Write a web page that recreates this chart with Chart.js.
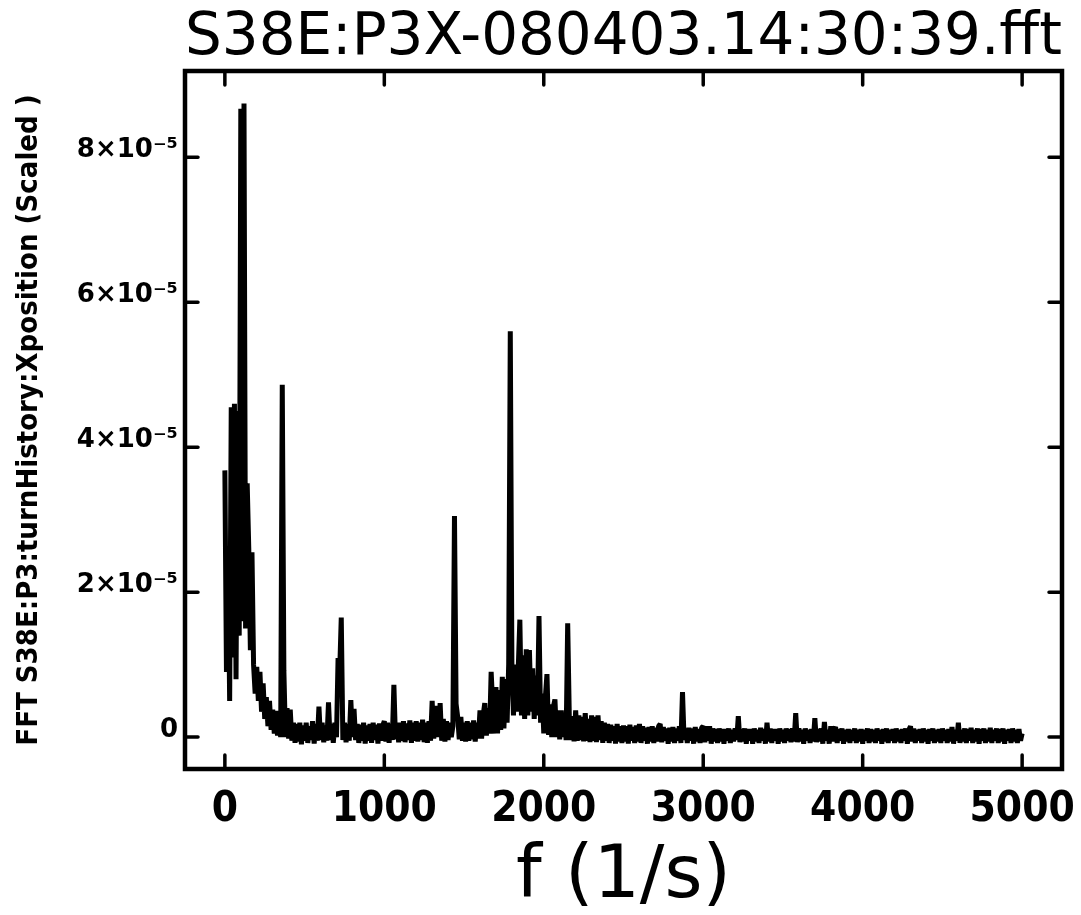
<!DOCTYPE html>
<html>
<head>
<meta charset="utf-8">
<script src="https://cdn.jsdelivr.net/npm/chart.js@4.4.1/dist/chart.umd.min.js"></script>
<style>
  html, body { margin: 0; padding: 0; background: #fff; }
  #fft { display: block; }
</style>
</head>
<body>
<canvas id="fft" width="1081" height="915"></canvas>
<script>
const chartTitle = 'S38E:P3X-080403.14:30:39.fft';
const xAxisTitle = 'f (1/s)';
const yAxisTitle = 'FFT S38E:P3:turnHistory:Xposition (Scaled )';
const yTickSuffix = '×10⁻⁵';

const xTickValues = [0, 1000, 2000, 3000, 4000, 5000];
const yTickValues = [0, 2, 4, 6, 8];

// frequency grid of the spectrum (1/s)
const freqStart = 0;
const freqStep = 10;

// FFT amplitude, in units of 1e-5, one value per 10 1/s from 0 to 5000
const amplitudeE5 = [
  3.68, 0.9, 2.58, 0.5, 4.55, 1.1, 4.6, 0.8, 4.5, 1.4,
  8.67, 1.6, 8.74, 1.5, 3.5, 2.59, 1.2, 2.55, 1.0, 0.6,
  0.97, 0.5, 0.9, 0.35, 0.74, 0.25, 0.55, 0.15, 0.5, 0.1,
  0.38, 0.05, 0.36, 0.02, 0.32, 0.0, 4.86, 0.92, 0.0, 0.4,
  -0.02, 0.38, -0.05, 0.2, -0.08, 0.18, -0.06, 0.2, -0.1, 0.16,
  -0.05, 0.2, -0.08, 0.15, -0.04, 0.22, -0.09, 0.18, -0.05, 0.42,
  -0.04, 0.2, -0.07, 0.16, -0.05, 0.48, -0.04, 0.18, -0.08, 0.2,
  0.0, 1.09, 0.9, 1.65, -0.04, 0.2, -0.07, 0.18, -0.05, 0.51,
  0.0, 0.39, -0.04, 0.18, -0.08, 0.17, -0.05, 0.2, -0.09, 0.16,
  -0.05, 0.18, -0.08, 0.2, -0.04, 0.17, -0.09, 0.19, -0.05, 0.16,
  0.22, -0.06, 0.2, -0.08, 0.18, -0.04, 0.72, -0.03, 0.2, -0.07,
  0.2, -0.05, 0.22, -0.07, 0.19, -0.04, 0.23, -0.08, 0.2, -0.05,
  0.22, -0.06, 0.2, -0.04, 0.24, -0.07, 0.2, -0.08, 0.22, -0.05,
  0.5, -0.02, 0.22, 0.43, 0.0, 0.47, -0.05, 0.25, -0.06, 0.22,
  -0.04, 0.2, 0.0, 0.15, 3.05, 0.46, 0.28, -0.03, 0.28, -0.05,
  0.2, -0.06, 0.22, -0.05, 0.2, -0.03, 0.23, -0.06, 0.2, -0.02,
  0.37, -0.02, 0.3, 0.47, 0.02, 0.4, 0.05, 0.9, 0.42, 0.05,
  0.69, 0.05, 0.65, 0.1, 0.83, 0.12, 0.8, 0.2, 1.0, 5.6,
  1.03, 0.3, 1.0, 0.35, 0.95, 1.62, 0.3, 1.13, 0.25, 1.21,
  0.3, 1.2, 0.35, 0.95, 0.25, 0.85, 0.3, 1.67, 0.2, 0.6,
  0.05, 0.55, 0.87, 0.03, 0.45, 0.0, 0.42, 0.52, 0.0, 0.37,
  -0.03, 0.37, 0.0, 0.3, -0.04, 1.57, 0.29, -0.04, 0.29, -0.06,
  0.37, -0.05, 0.3, -0.04, 0.28, -0.06, 0.33, -0.05, 0.25, -0.07,
  0.3, -0.05, 0.28, -0.07, 0.3, -0.04, 0.22, -0.08, 0.2, -0.05,
  0.18, -0.08, 0.17, -0.05, 0.15, -0.09, 0.18, -0.06, 0.15, -0.08,
  0.16, -0.06, 0.15, -0.09, 0.17, -0.05, 0.14, -0.08, 0.16, -0.06,
  0.18, -0.08, 0.15, -0.05, 0.13, -0.09, 0.14, -0.06, 0.15, -0.08,
  0.13, -0.06, 0.15, 0.18, -0.07, 0.14, -0.05, 0.12, -0.09, 0.13,
  -0.06, 0.14, -0.08, 0.12, -0.05, 0.15, -0.08, 0.62, -0.04, 0.12,
  -0.08, 0.13, -0.05, 0.12, -0.09, 0.14, -0.06, 0.11, -0.08, 0.13,
  0.15, -0.07, 0.15, -0.05, 0.15, -0.09, 0.12, -0.06, 0.11, -0.08,
  0.12, -0.06, 0.11, -0.09, 0.11, -0.05, 0.12, -0.08, 0.1, -0.06,
  0.12, -0.04, 0.29, -0.07, 0.11, -0.06, 0.12, -0.09, 0.11, -0.05,
  0.11, -0.09, 0.12, -0.06, 0.1, -0.08, 0.13, -0.05, 0.11, -0.09,
  0.2, -0.06, 0.12, -0.08, 0.11, -0.05, 0.11, -0.09, 0.12, -0.06,
  0.1, -0.08, 0.12, -0.05, 0.11, -0.07, 0.12, -0.06, 0.33, -0.07,
  0.12, -0.06, 0.1, -0.09, 0.12, -0.05, 0.1, -0.08, 0.11, -0.06,
  0.26, -0.07, 0.11, -0.06, 0.12, -0.09, 0.21, -0.05, 0.1, -0.09,
  0.15, -0.06, 0.1, 0.14, -0.08, 0.11, -0.05, 0.12, -0.09, 0.1,
  -0.06, 0.11, -0.08, 0.1, -0.05, 0.12, -0.08, 0.1, -0.06, 0.11,
  -0.09, 0.1, -0.05, 0.12, -0.08, 0.11, -0.06, 0.1, -0.08, 0.12,
  -0.05, 0.1, -0.09, 0.11, -0.06, 0.12, -0.08, 0.1, -0.05, 0.11,
  -0.08, 0.12, -0.06, 0.1, -0.08, 0.11, -0.05, 0.12, -0.09, 0.1,
  0.15, -0.06, 0.12, -0.08, 0.1, -0.05, 0.11, -0.08, 0.12, -0.06,
  0.1, -0.09, 0.11, -0.05, 0.12, -0.08, 0.1, -0.06, 0.11, -0.08,
  0.12, -0.05, 0.1, -0.08, 0.11, -0.06, 0.14, -0.09, 0.1, -0.05,
  0.2, -0.08, 0.1, -0.06, 0.12, -0.08, 0.11, -0.05, 0.13, -0.08,
  0.1, -0.06, 0.12, -0.09, 0.11, -0.05, 0.12, -0.08, 0.1, -0.06,
  0.13, -0.08, 0.1, -0.05, 0.12, -0.08, 0.11, -0.06, 0.12, -0.09,
  0.1, -0.05, 0.11, -0.08, 0.12, -0.06, 0.1, -0.08, 0.11, -0.05,
  0.05
];

const xRange = [-250, 5250];
const yRange = [-0.44, 9.19];

const points = amplitudeE5.map((v, i) => ({ x: freqStart + i * freqStep, y: v }));

// box round the plot with tick marks pointing inwards on all four sides
const frameTicks = {
  id: 'frameTicks',
  afterDatasetsDraw(chart) {
    const { ctx, chartArea: a, scales } = chart;
    ctx.save();
    ctx.strokeStyle = '#000';
    ctx.lineWidth = 4.5;
    ctx.strokeRect(a.left, a.top, a.right - a.left, a.bottom - a.top);
    ctx.lineWidth = 3.5;
    ctx.lineCap = 'round';
    ctx.beginPath();
    scales.x.ticks.forEach(t => {
      const px = scales.x.getPixelForValue(t.value);
      ctx.moveTo(px, a.bottom); ctx.lineTo(px, a.bottom - 14);
      ctx.moveTo(px, a.top); ctx.lineTo(px, a.top + 14);
    });
    scales.y.ticks.forEach(t => {
      const py = scales.y.getPixelForValue(t.value);
      ctx.moveTo(a.left, py); ctx.lineTo(a.left + 13, py);
      ctx.moveTo(a.right, py); ctx.lineTo(a.right - 13, py);
    });
    ctx.stroke();
    ctx.restore();
  }
};

new Chart(document.getElementById('fft'), {
  type: 'line',
  data: {
    datasets: [{
      data: points,
      borderColor: '#000',
      borderWidth: 5,
      borderJoinStyle: 'bevel',
      pointRadius: 0,
      tension: 0,
      fill: false
    }]
  },
  options: {
    responsive: false,
    animation: false,
    events: [],
    layout: { padding: { left: 0, right: 19, top: 0, bottom: 0 } },
    plugins: {
      legend: { display: false },
      tooltip: { enabled: false },
      title: {
        display: true,
        text: chartTitle,
        fullSize: false,
        color: '#000',
        font: { family: 'DejaVu Sans', size: 58, weight: 'normal', lineHeight: 1 },
        padding: { top: 10, bottom: 3 }
      }
    },
    scales: {
      x: {
        type: 'linear',
        min: xRange[0],
        max: xRange[1],
        grid: { display: false, drawTicks: false },
        border: { display: false },
        afterBuildTicks: s => { s.ticks = xTickValues.map(v => ({ value: v })); },
        ticks: {
          autoSkip: false,
          maxRotation: 0,
          padding: 16,
          color: '#000',
          font: { family: "'DejaVu Sans Condensed', 'DejaVu Sans'", size: 42, weight: 'bold' },
          callback: v => String(v)
        },
        title: {
          display: true,
          text: xAxisTitle,
          color: '#000',
          font: { family: 'DejaVu Sans', size: 73, weight: 'normal', lineHeight: 1 },
          padding: { top: 0, bottom: 0 }
        },
        afterFit: s => { s.height = 146; s.paddingLeft = 0; s.paddingRight = 0; }
      },
      y: {
        type: 'linear',
        min: yRange[0],
        max: yRange[1],
        grid: { display: false, drawTicks: false },
        border: { display: false },
        afterBuildTicks: s => { s.ticks = yTickValues.map(v => ({ value: v })); },
        ticks: {
          autoSkip: false,
          padding: 7,
          labelOffset: -7,
          color: '#000',
          font: { family: 'DejaVu Sans', size: 26, weight: 'bold' },
          callback: v => v === 0 ? '0' : v + yTickSuffix
        },
        title: {
          display: true,
          text: yAxisTitle,
          color: '#000',
          font: { family: "'DejaVu Sans Condensed', 'DejaVu Sans'", size: 29, weight: 'bold', lineHeight: 1 },
          padding: { top: 15, bottom: 0 }
        },
        afterFit: s => { s.width = 185; s.paddingTop = 0; s.paddingBottom = 0; }
      }
    }
  },
  plugins: [frameTicks]
});
</script>
</body>
</html>
